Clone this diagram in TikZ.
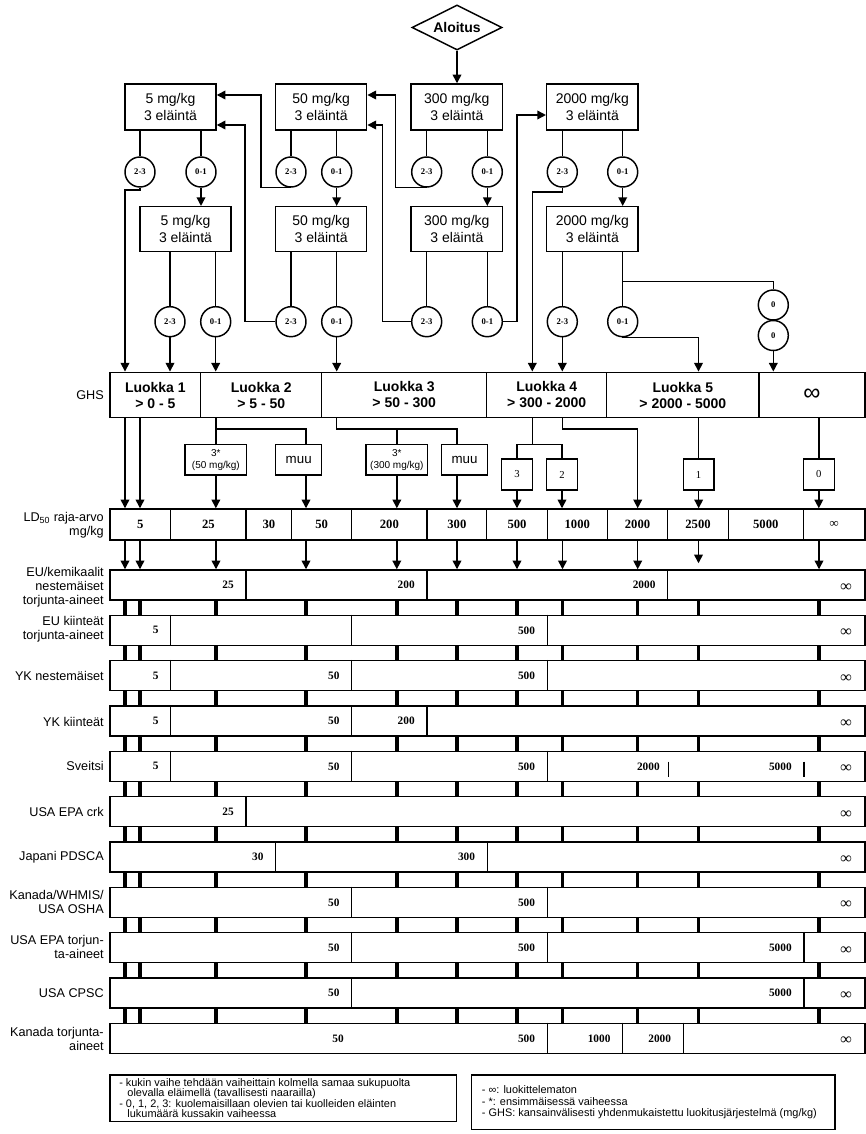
\documentclass[tikz,border=0pt]{standalone}
\usepackage{fontspec}
\setmainfont{Liberation Serif}
\setsansfont{Liberation Sans}
\usetikzlibrary{shapes.geometric,arrows.meta}
\newcommand\inft{{\fontsize{12}{12}\selectfont ∞}}
\newcommand\bandbox[2]{\node[band,rbox={110,#2,865,#2+30}] (band#1) {};}
\newcommand\bdiv[2]{\draw[ln] (band#1.north -| #2,0) -- (band#1.south -| #2,0);}
\begin{document}
\begin{tikzpicture}[x=0.75pt,y=-0.75pt,
 rbox/.style args={#1,#2,#3,#4}{at={({(#1+#3)/2},{(#2+#4)/2})},minimum width={(#3-#1)*0.75pt},minimum height={(#4-#2)*0.75pt}},
 ln/.style={line width=1.1pt},
 arr/.style={line width=1.1pt,-{Triangle[length=6.5pt,width=6.5pt]}},
 bx/.style={draw,line width=1.1pt,inner sep=0pt,align=center},
 sbox/.style={bx,font=\sffamily\fontsize{10.5}{12.5}\selectfont},
 crc/.style={draw,circle,line width=1.1pt,minimum size=22.5pt,inner sep=0pt,font=\bfseries\fontsize{6.5}{7}\selectfont},
 ghs/.style={bx,font=\sffamily\bfseries\fontsize{10.5}{12}\selectfont},
 ldc/.style={bx,font=\bfseries\fontsize{9.5}{11}\selectfont},
 band/.style={bx},
 bnum/.style={anchor=east,inner sep=0pt,font=\bfseries\fontsize{8.5}{9}\selectfont},
 infl/.style={bnum,yshift=-2pt},
 rowlab/.style={anchor=east,align=right,inner sep=0pt,font=\sffamily\fontsize{9.5}{10.5}\selectfont},
 tick/.style={line width=2.6pt},
 sub/.style={bx,font=\sffamily\fontsize{7.5}{9}\selectfont},
 muu/.style={bx,font=\sffamily\fontsize{10}{11}\selectfont},
 nbox/.style={bx,font=\fontsize{8}{9}\selectfont},
 legtxt/.style={anchor=north west,inner sep=0pt,align=left,font=\sffamily\fontsize{8.2}{7.9}\selectfont},
]
\fill[white] (0,0) rectangle (866,1134);
\useasboundingbox (0,0) rectangle (866,1134);

% column coordinates
\coordinate (p1) at (125,0);
\coordinate (p2) at (140,0);
\coordinate (p3) at (216,0);
\coordinate (p4) at (306,0);
\coordinate (p5) at (396.8,0);
\coordinate (p6) at (457,0);
\coordinate (p7) at (517,0);
\coordinate (p8) at (562.5,0);
\coordinate (p9) at (637.7,0);
\coordinate (p10) at (698.5,0);
\coordinate (p11) at (819,0);
\coordinate (h1) at (0,429);
\coordinate (j4) at (532.3,444.3);

% start
\node[diamond,draw,line width=1.1pt,aspect=2,minimum width=67.5pt,minimum height=33.75pt,inner sep=0pt,
      font=\sffamily\bfseries\fontsize{10.5}{12}\selectfont] (start) at (457,27.5) {Aloitus};

% first row boxes
\node[sbox,rbox={125,84,216,130}] (A1) {5 mg/kg\\3 eläintä};
\node[sbox,rbox={275.7,84,366.7,130}] (B1) {50 mg/kg\\3 eläintä};
\node[sbox,rbox={411,84,502.7,130}] (C1) {300 mg/kg\\3 eläintä};
\node[sbox,rbox={546.7,84,638,130}] (D1) {2000 mg/kg\\3 eläintä};

% second row boxes
\node[sbox,rbox={140,206.7,231,251.7}] (A2) {5 mg/kg\\3 eläintä};
\node[sbox,rbox={275.7,206.7,366.7,251.7}] (B2) {50 mg/kg\\3 eläintä};
\node[sbox,rbox={411,206.7,502.7,251.7}] (C2) {300 mg/kg\\3 eläintä};
\node[sbox,rbox={546.7,206.7,638,251.7}] (D2) {2000 mg/kg\\3 eläintä};

% circles row 1
\node[crc] (a1t) at (140,172) {2-3};
\node[crc] (a1z) at (201,172) {0-1};
\node[crc] (b1t) at (291,172) {2-3};
\node[crc] (b1z) at (336.7,172) {0-1};
\node[crc] (c1t) at (426.7,172) {2-3};
\node[crc] (c1z) at (487.3,172) {0-1};
\node[crc] (d1t) at (562.3,172) {2-3};
\node[crc] (d1z) at (622.7,172) {0-1};
% circles row 2
\node[crc] (a2t) at (170,321.7) {2-3};
\node[crc] (a2z) at (215.7,321.7) {0-1};
\node[crc] (b2t) at (291,321.7) {2-3};
\node[crc] (b2z) at (336.7,321.7) {0-1};
\node[crc] (c2t) at (426.7,321.7) {2-3};
\node[crc] (c2z) at (487.3,321.7) {0-1};
\node[crc] (d2t) at (562.3,321.7) {2-3};
\node[crc] (d2z) at (622.7,321.7) {0-1};
\node[crc] (z1) at (773.3,305) {0};
\node[crc] (z2) at (773.3,335.5) {0};

% GHS row
\node[rowlab] (ghslab) at (104,395) {GHS};
\node[ghs,rbox={110,372.3,200.7,417.7}] (g1) {Luokka 1\\> 0 - 5};
\node[ghs,rbox={200.7,372.3,321.7,417.7}] (g2) {Luokka 2\\> 5 - 50};
\node[ghs,rbox={321.7,372.3,486.7,417.7}] (g3) {Luokka 3\\> 50 - 300};
\node[ghs,rbox={486.7,372.3,606.7,417.7}] (g4) {Luokka 4\\> 300 - 2000};
\node[ghs,rbox={606.7,372.3,759,417.7}] (g5) {Luokka 5\\> 2000 - 5000};
\node[ghs,rbox={759,372.3,865,417.7}] (g6) {{\mdseries\fontsize{18}{18}\selectfont ∞}};

% sub boxes
\node[sub,rbox={185,444.3,246.7,475}] (s1) {3*\\(50 mg/kg)};
\node[muu,rbox={275.7,444.3,321.7,475}] (s2) {muu};
\node[sub,rbox={366,444.3,427.7,475}] (s3) {3*\\(300 mg/kg)};
\node[muu,rbox={441.7,444.3,487.3,475}] (s4) {muu};
\node[nbox,rbox={501.7,459,532.3,490}] (n3) {3};
\node[nbox,rbox={546.7,459,577.3,490}] (n2) {2};
\node[nbox,rbox={683.3,459,714,490}] (n1) {1};
\node[nbox,rbox={803.3,459,834.3,490}] (n0) {0};

% LD50 row
\node[rowlab] (ldlab) at (104,525.5) {LD\textsubscript{50} raja-arvo\\mg/kg};
\foreach \xa/\xb/\txt [count=\k] in {110/170.7/5,170.7/246/25,246/291.7/30,291.7/351.7/50,351.7/427/200,427/486.7/300,486.7/547.3/500,547.3/607.3/1000,607.3/667.7/2000,667.7/728.3/2500,728.3/803.3/5000,803.3/865/∞}
  {\node[ldc,rbox={\xa,509,\xb,540}] (ld\k) {\txt};}

% bands
\bandbox{1}{570}
\bandbox{2}{615.33}
\bandbox{3}{660.67}
\bandbox{4}{706}
\bandbox{5}{751.33}
\bandbox{6}{796.67}
\bandbox{7}{842}
\bandbox{8}{887.33}
\bandbox{9}{932.67}
\bandbox{10}{978}
\bandbox{11}{1023.33}

% band 1
\bdiv{1}{246}\bdiv{1}{427}\bdiv{1}{667.7}
\node[bnum] (l1a) at (band1.center -| 234,0) {25};
\node[bnum] (l1b) at (band1.center -| 415,0) {200};
\node[bnum] (l1c) at (band1.center -| 655.7,0) {2000};
\node[infl] (l1d) at (band1.center -| 852,0) {\inft};
% band 2
\bdiv{2}{170.7}\bdiv{2}{351.7}\bdiv{2}{547.3}
\node[bnum] (l2a) at (band2.center -| 158.7,0) {5};
\node[bnum] (l2b) at (band2.center -| 535.3,0) {500};
\node[infl] (l2c) at (band2.center -| 852,0) {\inft};
% band 3
\bdiv{3}{170.7}\bdiv{3}{351.7}\bdiv{3}{547.3}
\node[bnum] (l3a) at (band3.center -| 158.7,0) {5};
\node[bnum] (l3b) at (band3.center -| 339.7,0) {50};
\node[bnum] (l3c) at (band3.center -| 535.3,0) {500};
\node[infl] (l3d) at (band3.center -| 852,0) {\inft};
% band 4
\bdiv{4}{170.7}\bdiv{4}{351.7}\bdiv{4}{427}
\node[bnum] (l4a) at (band4.center -| 158.7,0) {5};
\node[bnum] (l4b) at (band4.center -| 339.7,0) {50};
\node[bnum] (l4c) at (band4.center -| 415,0) {200};
\node[infl] (l4d) at (band4.center -| 852,0) {\inft};
% band 5
\bdiv{5}{170.7}\bdiv{5}{351.7}\bdiv{5}{547.3}
\node[bnum] (l5a) at (band5.center -| 158.7,0) {5};
\node[bnum] (l5b) at (band5.center -| 339.7,0) {50};
\node[bnum] (l5c) at (band5.center -| 535.3,0) {500};
\node[bnum] (l5d) at (band5.center -| 660,0) {2000};
\node[bnum] (l5e) at (band5.center -| 792,0) {5000};
\node[infl] (l5f) at (band5.center -| 852,0) {\inft};
\draw[line width=0.9pt] (668.3,761.5) -- (668.3,776.5);
\draw[line width=0.9pt] (804,761.5) -- (804,776.5);
% band 6
\bdiv{6}{246}
\node[bnum] (l6a) at (band6.center -| 234,0) {25};
\node[infl] (l6b) at (band6.center -| 852,0) {\inft};
% band 7
\bdiv{7}{275.7}\bdiv{7}{487.3}
\node[bnum] (l7a) at (band7.center -| 263.7,0) {30};
\node[bnum] (l7b) at (band7.center -| 475.3,0) {300};
\node[infl] (l7c) at (band7.center -| 852,0) {\inft};
% band 8
\bdiv{8}{351.7}\bdiv{8}{547.3}
\node[bnum] (l8a) at (band8.center -| 339.7,0) {50};
\node[bnum] (l8b) at (band8.center -| 535.3,0) {500};
\node[infl] (l8c) at (band8.center -| 852,0) {\inft};
% band 9
\bdiv{9}{351.7}\bdiv{9}{547.3}\bdiv{9}{804}
\node[bnum] (l9a) at (band9.center -| 339.7,0) {50};
\node[bnum] (l9b) at (band9.center -| 535.3,0) {500};
\node[bnum] (l9c) at (band9.center -| 792,0) {5000};
\node[infl] (l9d) at (band9.center -| 852,0) {\inft};
% band 10
\bdiv{10}{351.7}\bdiv{10}{804}
\node[bnum] (l10a) at (band10.center -| 339.7,0) {50};
\node[bnum] (l10b) at (band10.center -| 792,0) {5000};
\node[infl] (l10c) at (band10.center -| 852,0) {\inft};
% band 11
\bdiv{11}{547.3}\bdiv{11}{622.7}\bdiv{11}{683.3}
\node[bnum] (l11a) at (band11.center -| 344,0) {50};
\node[bnum] (l11b) at (band11.center -| 535.3,0) {500};
\node[bnum] (l11c) at (band11.center -| 610.7,0) {1000};
\node[bnum] (l11d) at (band11.center -| 671.3,0) {2000};
\node[infl] (l11e) at (band11.center -| 852,0) {\inft};

% row labels
\node[rowlab] (r1) at (104,587) {EU/kemikaalit\\nestemäiset\\torjunta-aineet};
\node[rowlab] (r2) at (104,629) {EU kiinteät\\torjunta-aineet};
\node[rowlab] (r3) at (104,676) {YK nestemäiset};
\node[rowlab] (r4) at (104,721.5) {YK kiinteät};
\node[rowlab] (r5) at (104,766) {Sveitsi};
\node[rowlab] (r6) at (104,811.5) {USA EPA crk};
\node[rowlab] (r7) at (104,857) {Japani PDSCA};
\node[rowlab] (r8) at (104,902) {Kanada/WHMIS/\\USA OSHA};
\node[rowlab] (r9) at (104,947) {USA EPA torjun-\\ta-aineet};
\node[rowlab] (r10) at (104,993) {USA CPSC};
\node[rowlab] (r11) at (104,1039) {Kanada torjunta-\\aineet};

% ticks between bands
\foreach \i [evaluate=\i as \j using int(\i+1)] in {1,...,10}
  \foreach \p in {p1,p2,p3,p4,p5,p6,p7,p8,p9,p10,p11}
    \draw[tick] (band\i.south -| \p) -- (band\j.north -| \p);

% legends
\node[bx,rbox={110,1075,456.7,1121.7}] (leg1) {};
\node[legtxt] (leg1t) at (119,1078) {- kukin vaihe tehdään vaiheittain kolmella samaa sukupuolta\\
\hspace*{0.75em}olevalla eläimellä (tavallisesti naarailla)\\
- 0, 1, 2, 3: kuolemaisillaan olevien tai kuolleiden eläinten\\
\hspace*{0.75em}lukumäärä kussakin vaiheessa};
\node[bx,rbox={471.7,1075,835,1129.3}] (leg2) {};
\node[legtxt,font=\sffamily\fontsize{8.2}{8.6}\selectfont] (leg2t) at (481.7,1085.5) {- ∞: luokittelematon\\
- *: ensimmäisessä vaiheessa\\
- GHS: kansainvälisesti yhdenmukaistettu luokitusjärjestelmä (mg/kg)};

% ---------------- connectors ----------------
\draw[arr] (start.south) -- (start.south |- C1.north);
\foreach \bb/\cc in {A1/a1t,A1/a1z,B1/b1t,B1/b1z,C1/c1t,C1/c1z,D1/d1t,D1/d1z,A2/a2t,A2/a2z,B2/b2t,B2/b2z,C2/c2t,C2/c2z,D2/d2t,D2/d2z}
  \draw[ln] (\bb.south -| \cc) -- (\cc);
\draw[arr] (a1z) -- (a1z |- A2.north);
\draw[arr] (b1z) -- (b1z |- B2.north);
\draw[arr] (c1z) -- (c1z |- C2.north);
\draw[arr] (d1z) -- (d1z |- D2.north);
\coordinate (br0) at (622.7,281.7);
\draw[ln] (br0) -| (z1.north);

\coordinate (u1) at (261,95);
\coordinate (u2) at (395.7,95);
\coordinate (u3) at (245,125);
\coordinate (u4) at (382.7,125);
\coordinate (u5) at (517,115);
\draw[arr] (b1t.south) -| (u1) -- (u1 -| A1.east);
\draw[arr] (c1t.south) -| (u2) -- (u2 -| B1.east);
\draw[arr] (b2t.west) -| (u3) -- (u3 -| A1.east);
\draw[arr] (c2t.west) -| (u4) -- (u4 -| B1.east);
\draw[arr] (c2z.east) -| (u5) -- (u5 -| D1.west);

% into GHS
\draw[arr] (a1t.south) -- ++(0,2.5) -| (g1.north -| p1);
\draw[arr] (a2t) -- (a2t |- g1.north);
\draw[arr] (a2z) -- (a2z |- g2.north);
\draw[arr] (b2z) -- (b2z |- g3.north);
\draw[arr] (d1t.south) -- ++(0,4.5) -| (g4.north -| j4);
\draw[arr] (d2t) -- (d2t |- g4.north);
\coordinate (e5) at (698.5,337.5);
\draw[arr] (d2z.south) |- (e5) -- (e5 |- g5.north);
\draw[arr] (z2) -- (z2 |- g6.north);

% below GHS
\draw[arr] (g1.south -| p1) -- (ld1.north -| p1);
\draw[arr] (g1.south -| p2) -- (ld1.north -| p2);
\draw[ln] (g2.south -| s1.north) -- (s1.north);
\draw[ln] (s1.north |- h1) -| (s2.north -| p4);
\draw[arr] (s1.south) -- (s1.south |- ld2.north);
\draw[arr] (s2.south -| p4) -- (ld4.north -| p4);
\draw[ln] (g3.south -| b2z) -- (b2z |- h1) -| (s4.north -| p6);
\draw[ln] (s3.north |- h1) -- (s3.north);
\draw[arr] (s3.south) -- (s3.south |- ld5.north);
\draw[arr] (s4.south -| p6) -- (ld6.north -| p6);
\draw[ln] (g4.south -| j4) -- (j4);
\draw[ln] (n3.north) |- (j4) -| (n2.north);
\draw[arr] (n3.south) -- (n3.south |- ld7.north);
\draw[arr] (n2.south) -- (n2.south |- ld8.north);
\draw[arr] (g4.south -| p8) -- (p8 |- h1) -| (ld9.north -| p9);
\draw[ln] (g5.south -| n1.north) -- (n1.north);
\draw[arr] (n1.south) -- (n1.south |- ld10.north);
\draw[ln] (g6.south -| n0.north) -- (n0.north);
\draw[arr] (n0.south) -- (n0.south |- ld12.north);

% LD50 -> first band
\foreach \p in {p1,p2,p3,p4,p5,p6,p7,p8,p9,p11}
  \draw[arr] (ld1.south -| \p) -- (band1.north -| \p);
\draw[arr,shorten >=4.5pt] (ld1.south -| p10) -- (band1.north -| p10);
\end{tikzpicture}
\end{document}
